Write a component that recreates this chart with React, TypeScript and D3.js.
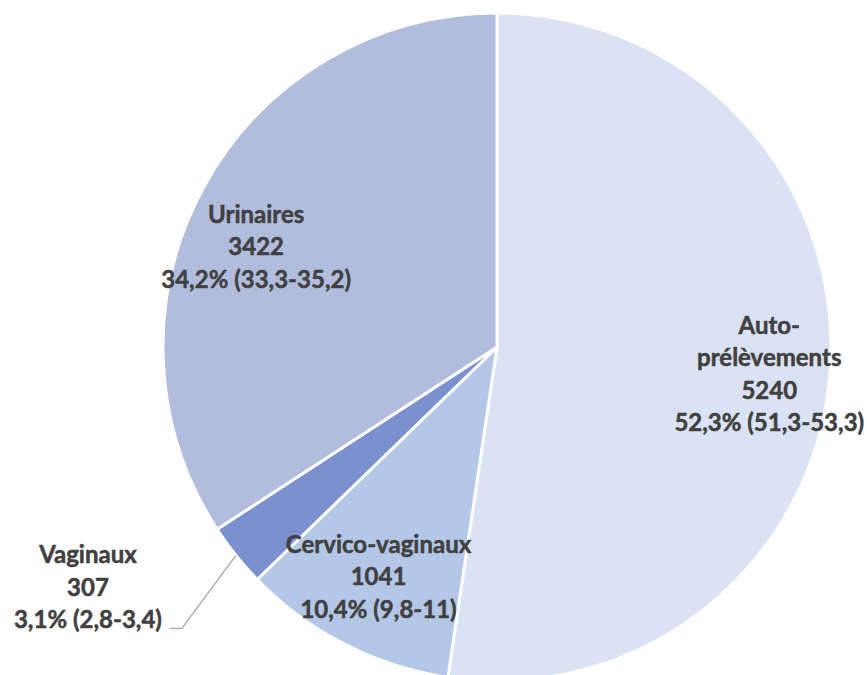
import React, { useEffect, useRef } from "react";
import * as d3 from "d3";

const categories = ["Auto-prélèvements", "Cervico-vaginaux", "Vaginaux", "Urinaires"];
const counts = [5240, 1041, 307, 3422];
const percentLabels = ["52,3% (51,3-53,3)", "10,4% (9,8-11)", "3,1% (2,8-3,4)", "34,2% (33,3-35,2)"];
const nameLines = [["Auto-", "prélèvements"], ["Cervico-vaginaux"], ["Vaginaux"], ["Urinaires"]];
const colors = ["#DAE3F3", "#B4C7E7", "#7A90CF", "#B2BDDE"];

// petits décalages des étiquettes par rapport au centroïde (mise en page seulement)
const labelNudge = [[7, 16], [3, 1.5], [0, 0], [-7, 35]];

export default function App() {
  const ref = useRef<SVGSVGElement>(null);

  useEffect(() => {
    if (!ref.current) return;
    const width = 867;
    const height = 675;
    const cx = 497;
    const cy = 347;
    const radius = 334;
    const lineH = 32.5;

    const svg = d3.select(ref.current);
    svg.selectAll("*").remove();
    svg.attr("width", width).attr("height", height);

    const g = svg.append("g").attr("transform", `translate(${cx},${cy})`);

    const data = categories.map((c, i) => ({ name: c, value: counts[i], i }));
    const pie = d3.pie<any>().sort(null).value((d) => d.value);
    const arcs = pie(data);

    const arc = d3.arc<any>().innerRadius(0).outerRadius(radius);
    const labelArc = d3.arc<any>().innerRadius(266).outerRadius(266);
    const edgeArc = d3.arc<any>().innerRadius(radius).outerRadius(radius);

    g.selectAll("path.slice")
      .data(arcs)
      .enter()
      .append("path")
      .attr("class", "slice")
      .attr("d", arc)
      .attr("fill", (d) => colors[d.data.i])
      .attr("stroke", "#ffffff")
      .attr("stroke-width", 3)
      .attr("stroke-linejoin", "round");

    arcs.forEach((d) => {
      const i = d.data.i;
      const lines = [...nameLines[i], String(counts[i]), percentLabels[i]];
      let x: number, y: number;
      if (i === 2) {
        // petite part : étiquette à l'extérieur avec ligne de rappel
        const [ex, ey] = edgeArc.centroid(d);
        const kx = ex - 54;
        const ky = ey + 73;
        g.append("polyline")
          .attr("points", `${ex},${ey} ${kx},${ky} ${kx - 12},${ky}`)
          .attr("fill", "none")
          .attr("stroke", "#A6A6A6")
          .attr("stroke-width", 1.3);
        x = kx - 94;
        y = ky - 65;
      } else {
        const [lx, ly] = labelArc.centroid(d);
        x = lx + labelNudge[i][0];
        y = ly + labelNudge[i][1] - ((lines.length - 1) * lineH) / 2;
      }
      const t = g.append("text")
        .attr("text-anchor", "middle")
        .attr("font-family", "Lato, 'Open Sans', sans-serif")
        .attr("font-weight", "bold")
        .attr("font-size", 24)
        .attr("fill", "#404040")
        .attr("stroke", "#404040")
        .attr("stroke-width", 0.5);
      lines.forEach((l, k) => {
        t.append("tspan")
          .attr("x", x)
          .attr("y", y + k * lineH)
          .text(l);
      });
    });
  }, []);

  return (
    <svg
      ref={ref}
      style={{ position: "absolute", left: 0, top: 0, background: "#ffffff" }}
    />
  );
}
